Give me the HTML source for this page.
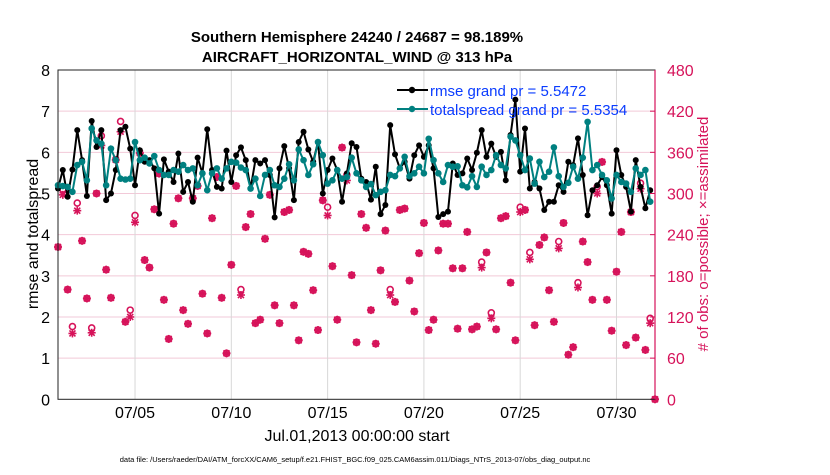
<!DOCTYPE html>
<html><head><meta charset="utf-8"><style>
body{margin:0;background:#fff;width:830px;height:470px;overflow:hidden;font-family:"Liberation Sans",sans-serif}
svg text{font-family:"Liberation Sans",sans-serif}
</style></head><body>
<svg id="chart" width="830" height="470" xmlns="http://www.w3.org/2000/svg">
<g id="grid"></g><g id="marks"></g><g id="axes"></g>
<text x="357" y="42" text-anchor="middle" font-size="15" font-weight="bold">Southern Hemisphere 24240 / 24687 = 98.189%</text>
<text x="357" y="62" text-anchor="middle" font-size="15" font-weight="bold">AIRCRAFT_HORIZONTAL_WIND @ 313 hPa</text>
<text transform="translate(38,234) rotate(-90)" text-anchor="middle" font-size="16">rmse and totalspread</text>
<text transform="translate(708,234) rotate(-90)" text-anchor="middle" font-size="15" fill="#d6135a"># of obs: o=possible; ×=assimilated</text>
<text x="357" y="441" text-anchor="middle" font-size="16">Jul.01,2013 00:00:00 start</text>
<text x="355" y="462" text-anchor="middle" font-size="7.5">data file: /Users/raeder/DAI/ATM_forcXX/CAM6_setup/f.e21.FHIST_BGC.f09_025.CAM6assim.011/Diags_NTrS_2013-07/obs_diag_output.nc</text>
<g>
<line x1="397" y1="90" x2="428" y2="90" stroke="#000" stroke-width="2"/><circle cx="412" cy="90" r="3.2" fill="#000"/>
<text x="430" y="96" font-size="15" fill="#0a3cff">rmse grand pr = 5.5472</text>
<line x1="397" y1="109" x2="428" y2="109" stroke="#008080" stroke-width="2"/><circle cx="412" cy="109" r="3.2" fill="#008080"/>
<text x="430" y="115" font-size="15" fill="#0a3cff">totalspread grand pr = 5.5354</text>
</g>
</svg>
<script>
const rmse=[5.12,5.57,4.92,5.58,6.54,5.81,4.94,6.76,6.13,6.54,4.84,5.0,5.57,6.54,6.62,6.09,5.2,6.05,5.77,5.81,5.61,4.51,5.83,5.53,5.28,5.97,5.04,5.28,4.8,5.87,5.49,6.56,5.57,5.16,5.12,6.04,5.28,5.93,6.12,
5.81,5.12,5.81,5.73,5.81,5.45,4.42,5.61,6.15,5.61,4.84,6.25,6.5,6.07,5.77,6.25,5.0,5.57,5.85,5.57,4.8,5.49,6.22,6.13,5.36,5.28,4.85,5.65,4.5,4.72,6.66,5.95,5.61,5.77,5.36,5.93,6.17,5.89,6.17,5.61,4.43,4.5,
4.56,5.73,5.45,5.49,5.85,5.57,5.99,6.54,5.89,6.21,5.89,6.01,5.32,6.42,7.28,5.53,6.58,5.12,5.28,5.12,4.6,4.8,4.8,5.2,5.04,5.77,5.69,6.34,5.45,4.47,5.08,5.2,5.4,5.2,4.51,6.05,5.45,5.16,4.56,5.81,5.16,4.64,5.08];
const spread=[5.2,5.18,5.16,5.04,5.69,5.77,5.32,6.58,6.29,6.21,5.2,6.09,5.81,5.36,5.34,5.36,6.25,5.81,5.87,5.73,5.91,5.57,5.45,5.45,5.57,5.53,5.69,5.57,5.61,5.2,5.49,5.08,5.49,5.61,5.36,5.61,5.77,5.75,5.63,
5.57,5.12,5.36,4.94,5.45,5.57,5.2,5.16,5.36,5.71,5.32,6.07,5.81,5.45,5.71,6.25,5.93,5.24,5.32,5.57,5.36,5.4,5.87,5.49,5.32,5.16,5.23,4.96,5.04,5.08,5.45,5.42,5.61,5.89,5.42,5.49,5.65,5.49,6.33,5.81,5.49,5.28,
5.69,5.65,5.66,5.2,5.15,5.42,5.16,5.65,5.45,5.57,5.93,5.69,5.61,6.38,6.29,5.93,5.57,5.85,5.24,5.77,5.4,5.53,6.12,5.42,5.16,5.26,5.65,5.36,5.87,6.74,5.57,5.69,5.45,5.32,4.88,5.45,5.28,5.24,5.04,5.61,5.45,5.57,4.8];
const obsUsed=[222,298,160,96,275,231,147,97,300,370,189,148,349,390,113,120,258,359,203,192,277,329,145,88,256,293,130,110,293,311,154,96,264,324,148,67,196,311,152,
251,270,111,116,234,298,137,111,273,276,137,86,215,212,159,101,290,268,194,116,367,319,181,83,270,250,130,81,188,246,152,142,276,278,173,128,213,257,101,116,217,256,
256,191,103,191,244,102,106,192,214,118,102,264,267,170,86,273,276,204,108,225,236,159,113,220,257,65,76,163,230,200,145,300,346,145,100,186,244,79,273,90,307,72,111,0];
const obsPossible=[222,306,160,106,286,231,147,104,300,384,189,148,349,405,113,130,268,359,203,192,277,329,145,88,256,293,130,110,293,311,154,96,264,324,148,67,196,311,160,
251,270,111,116,234,298,137,111,273,276,137,86,215,212,159,101,290,280,194,116,367,327,181,83,270,250,130,81,188,246,160,142,276,278,173,128,213,257,101,116,217,256,
256,191,103,191,244,102,106,200,214,126,102,264,267,170,86,280,276,214,108,225,236,159,113,230,257,65,76,170,230,200,145,310,346,145,100,186,244,79,273,90,315,72,118,0];
const xTicks=["07/05","07/10","07/15","07/20","07/25","07/30"];
const xTickDays=[4,9,14,19,24,29];
const yTicks=[0,1,2,3,4,5,6,7,8];
const y2Ticks=[0,60,120,180,240,300,360,420,480];

const X0=58,X1=655,Y0=399.3,Y1=70;
const xs=d=>X0+(X1-X0)*d/31;
const ys=v=>Y0-(Y0-Y1)*v/8;
const y2s=c=>Y0-(Y0-Y1)*c/480;
const NS="http://www.w3.org/2000/svg";
function mk(tag,attrs,parent){const e=document.createElementNS(NS,tag);for(const k in attrs)e.setAttribute(k,attrs[k]);parent.appendChild(e);return e;}
const grid=document.getElementById('grid'),marks=document.getElementById('marks'),axes=document.getElementById('axes');
yTicks.forEach(v=>{if(v>0&&v<8){const l=mk('line',{x1:X0,x2:X1,y1:ys(v),y2:ys(v),stroke:'#f2c9d8','stroke-width':1},grid);

}
const t=mk('text',{x:X0-8,y:ys(v)+6,'text-anchor':'end','font-size':16},axes);t.textContent=v;

});
y2Ticks.forEach(c=>{const t=mk('text',{x:X1+12,y:y2s(c)+6,'font-size':16,fill:'#d6135a'},axes);t.textContent=c;


mk('line',{x1:X1-5,x2:X1,y1:y2s(c),y2:y2s(c),stroke:'#d6135a'},axes);});
xTicks.forEach((lab,i)=>{const x=xs(xTickDays[i]);const l=mk('line',{x1:x,x2:x,y1:Y1,y2:Y0,stroke:'#d8d8d8'},grid);


const t=mk('text',{x:x,y:418,'text-anchor':'middle','font-size':16},axes);t.textContent=lab;

});
mk('rect',{x:X0,y:Y1,width:X1-X0,height:Y0-Y1,fill:'none',stroke:'#222','stroke-width':1},axes);
mk('line',{x1:X1,x2:X1,y1:Y1,y2:Y0,stroke:'#d6135a','stroke-width':1.2},axes);
const pink='#d6135a';
obsUsed.forEach((c,i)=>{const x=xs(i*0.25),y=y2s(c);const g=mk('g',{stroke:pink,'stroke-width':1.6},marks);


mk('line',{x1:x-4,x2:x+4,y1:y,y2:y},g);mk('line',{x1:x,x2:x,y1:y-4,y2:y+4},g);
mk('line',{x1:x-3,x2:x+3,y1:y-3,y2:y+3},g);mk('line',{x1:x-3,x2:x+3,y1:y+3,y2:y-3},g);});
obsPossible.forEach((c,i)=>{const p=mk('circle',{cx:xs(i*0.25),cy:y2s(c),r:3,fill:'none',stroke:pink,'stroke-width':1.6},marks);

});
function series(vals,color,r,name){const pts=vals.map((v,i)=>xs(i*0.25)+','+ys(v)).join(' ');
const pl=mk('polyline',{points:pts,fill:'none',stroke:color,'stroke-width':2},marks);


vals.forEach((v,i)=>{const c=mk('circle',{cx:xs(i*0.25),cy:ys(v),r:r,fill:color},marks);

});}
series(rmse,'#000',3,'rmse');
series(spread,'#008080',3.3,'totalspread');
</script>
</body></html>
